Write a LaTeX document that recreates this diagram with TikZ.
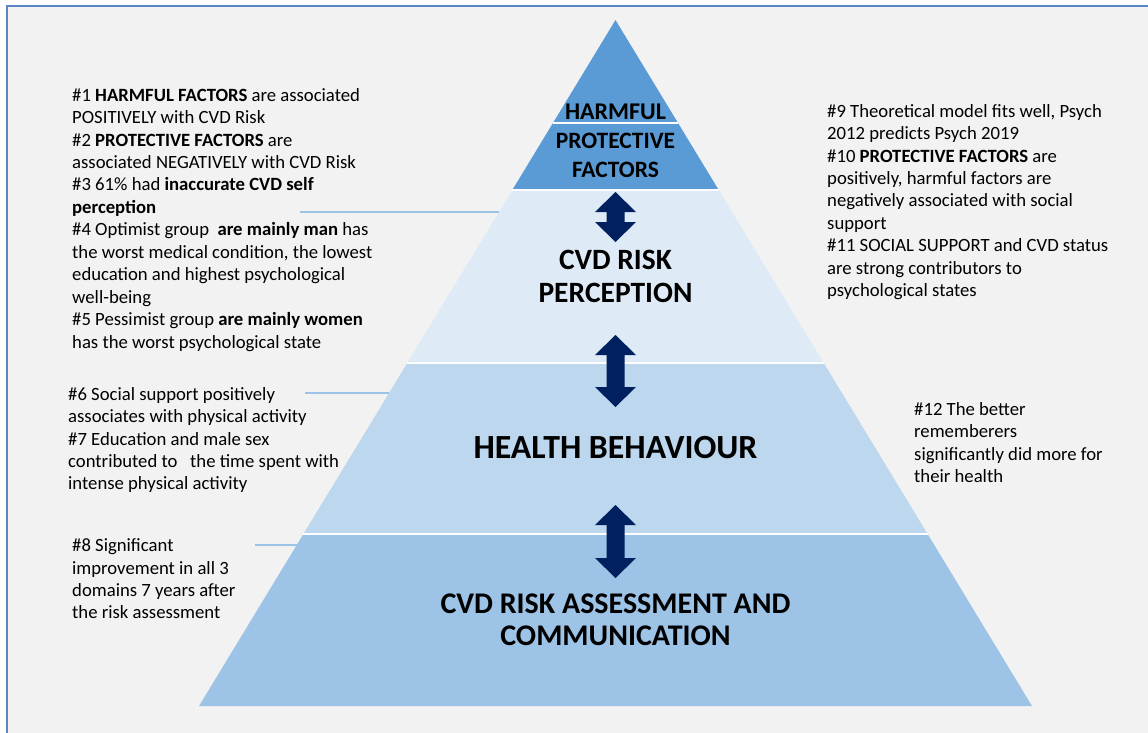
\documentclass[tikz,border=0pt]{standalone}
\usepackage{fontspec}
\setmainfont{Carlito}
\definecolor{bgc}{HTML}{F2F2F2}
\definecolor{framec}{HTML}{5B87C5}
\definecolor{lvA}{HTML}{5B9BD5}
\definecolor{lvB}{HTML}{DEEBF7}
\definecolor{lvC}{HTML}{BDD7EE}
\definecolor{lvD}{HTML}{9DC3E6}
\definecolor{arrowc}{HTML}{002060}
\definecolor{connc}{HTML}{9DC3E6}
\tikzset{
  txt/.style={align=left, anchor=north west, inner sep=0pt, text=black,
    font=\fontsize{18.7}{22.45}\selectfont},
  lab/.style={align=center, anchor=center, inner sep=0pt, text=black},
  conn/.style={draw=connc, line width=1.1pt},
  sep/.style={draw=white, line width=1.3pt},
  dblarrow/.style={fill=arrowc}
}
\begin{document}
\begin{tikzpicture}[x=1pt,y=-1pt]
\useasboundingbox (0,0) rectangle (1148,733);
\fill[white] (0,0) rectangle (1148,733);
\fill[bgc] (7,6) rectangle (1148,733);
\draw[framec, line width=1.2pt] (7,733) -- (7,6) -- (1148,6);

% pyramid levels
\fill[lvA] (615.5,20) -- (718.7,190) -- (512.3,190) -- cycle;
\fill[lvB] (512.3,190) -- (718.7,190) -- (823.7,363) -- (407.3,363) -- cycle;
\fill[lvC] (407.3,363) -- (823.7,363) -- (927.6,534) -- (303.4,534) -- cycle;
\fill[lvD] (303.4,534) -- (927.6,534) -- (1032,706) -- (199,706) -- cycle;
\draw[sep] (553,123) -- (678,123);
\draw[sep] (512.3,190) -- (718.7,190);
\draw[sep] (407.3,363) -- (823.7,363);
\draw[sep] (303.4,534) -- (927.6,534);

% arrows
\foreach \t/\b in {192/242, 335/407, 505/578} {
  \fill[dblarrow] (615.5,\t) -- (636,\t+20) -- (624.5,\t+20) -- (624.5,\b-20)
    -- (636,\b-20) -- (615.5,\b) -- (595,\b-20) -- (606.5,\b-20)
    -- (606.5,\t+20) -- (595,\t+20) -- cycle;
}

% pyramid labels
\node[lab, font=\bfseries\fontsize{24}{29}\selectfont] (harm) at (615.5,112) {HARMFUL};
\node[lab, font=\bfseries\fontsize{23.5}{29}\selectfont] (prot) at (615.5,155.5) {PROTECTIVE\\FACTORS};
\node[lab, font=\bfseries\fontsize{29.5}{33}\selectfont] (perc) at (615.5,276.5) {CVD RISK\\PERCEPTION};
\node[lab, font=\bfseries\fontsize{33.8}{36}\selectfont] (behav) at (615.5,448) {HEALTH BEHAVIOUR};
\node[lab, font=\bfseries\fontsize{30}{32}\selectfont] (assess) at (615.5,620) {CVD RISK ASSESSMENT AND\\COMMUNICATION};

% side texts
\node[txt] (tl1) at (72,88) {\#1 \textbf{HARMFUL FACTORS} are associated\\
POSITIVELY with CVD Risk\\
\#2 \textbf{PROTECTIVE FACTORS} are\\
associated NEGATIVELY with CVD Risk\\
\#3 61\% had \textbf{inaccurate CVD self}\\
\textbf{perception}\\
\#4 Optimist group~ \textbf{are mainly man} has\\
the worst medical condition, the lowest\\
education and highest psychological\\
well-being\\
\#5 Pessimist group \textbf{are mainly women}\\
has the worst psychological state};

\node[txt] (tr1) at (827,104) {\#9 Theoretical model fits well, Psych\\
2012 predicts Psych 2019\\
\#10 \textbf{PROTECTIVE FACTORS} are\\
positively, harmful factors are\\
negatively associated with social\\
support\\
\#11 SOCIAL SUPPORT and CVD status\\
are strong contributors to\\
psychological states};

\node[txt] (tl2) at (68,387) {\#6 Social support positively\\
associates with physical activity\\
\#7 Education and male sex\\
contributed to~~ the time spent with\\
intense physical activity};

\node[txt] (tr2) at (914,402) {\#12 The better\\
rememberers\\
significantly did more for\\
their health};

\node[txt] (tl3) at (72,538.5) {\#8 Significant\\
improvement in all 3\\
domains 7 years after\\
the risk assessment};

% connectors
\coordinate (c1a) at (300,212);
\coordinate (c1b) at (498.9,212);
\coordinate (c2a) at (305,393);
\coordinate (c2b) at (389,393);
\coordinate (c3a) at (255,545);
\coordinate (c3b) at (296.8,545);
\draw[conn] (c1a) -- (c1b);
\draw[conn] (c2a) -- (c2b);
\draw[conn] (c3a) -- (c3b);
\end{tikzpicture}
\end{document}
